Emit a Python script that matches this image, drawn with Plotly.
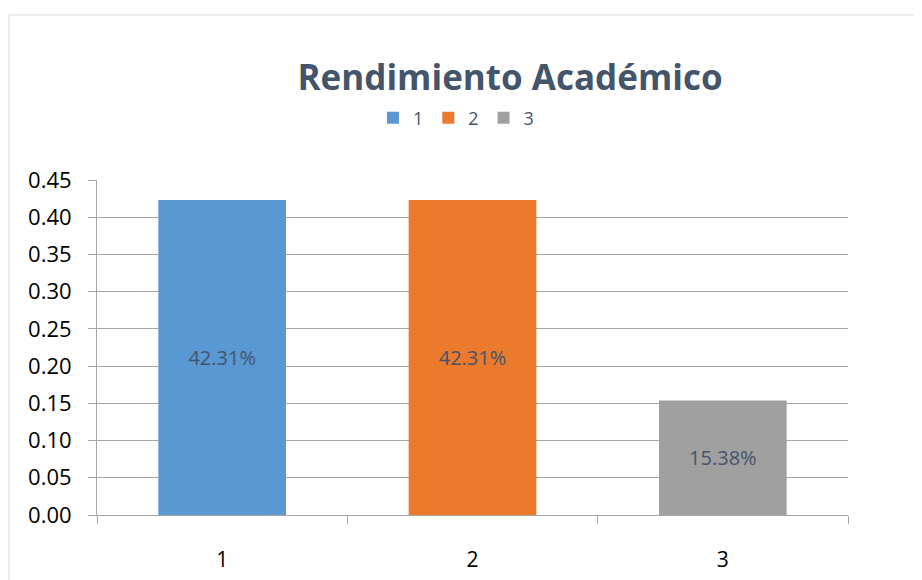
import plotly.graph_objects as go

categories = ["1", "2", "3"]
values = [0.4231, 0.4231, 0.1538]
labels = ["42.31%", "42.31%", "15.38%"]
colors = ["#5A98D3", "#EC7A2C", "#A0A0A0"]
y_ticks = [0.00, 0.05, 0.10, 0.15, 0.20, 0.25, 0.30, 0.35, 0.40, 0.45]

FONT = "'Open Sans', Lato, sans-serif"
TXT = "#44546A"

# page body has an 8px margin; plot area in page coords: x 97..848, y 180..515
L, T = 89, 172
W, H = 922, 580
PW, PH = 751, 335
R = W - L - PW
B = H - T - PH

fig = go.Figure()
for cat, val, lab, col in zip(categories, values, labels, colors):
    fig.add_trace(go.Bar(
        x=[cat], y=[val], name=cat, text=[lab],
        textposition="inside", insidetextanchor="middle",
        textfont=dict(family=FONT, size=20, color=TXT),
        marker=dict(color=col, line=dict(width=0)),
        textangle=0,
    ))

fig.update_layout(
    width=W, height=H,
    paper_bgcolor="white", plot_bgcolor="white",
    margin=dict(l=L, r=R, t=T, b=B),
    barmode="overlay", bargap=0.49,
    title=dict(text="<b>Rendimiento Académico</b>", x=0.55, xref="paper",
               y=1 - 70 / H, yanchor="middle", xanchor="center",
               font=dict(family=FONT, size=35, color=TXT)),
    legend=dict(orientation="h", x=0.478, xanchor="center", y=1.185, yanchor="middle",
                font=dict(family=FONT, size=18, color=TXT), itemwidth=30,
                bgcolor="rgba(0,0,0,0)", traceorder="normal"),
    font=dict(family=FONT),
    shapes=[dict(type="rect", xref="paper", yref="paper",
                 x0=(1 - L) / PW, x1=2, y0=(H - B - 7) / PH, y1=-1,
                 line=dict(color="#D9D9D9", width=1), fillcolor="rgba(0,0,0,0)",
                 layer="below")],
)
fig.update_xaxes(
    type="category", showline=True, linecolor="#A6A6A6", linewidth=1,
    ticks="outside", tickson="boundaries", ticklen=8, tickcolor="#A6A6A6",
    tickfont=dict(family=FONT, size=21, color="black"), ticklabelstandoff=26,
    showgrid=False,
)
fig.update_yaxes(
    range=[0, 0.45], tickvals=y_ticks, tickformat=".2f",
    showline=True, linecolor="#A6A6A6", linewidth=1,
    ticks="outside", ticklen=8, tickcolor="#A6A6A6",
    showgrid=True, gridcolor="#A6A6A6", gridwidth=1, zeroline=False,
    tickfont=dict(family=FONT, size=22, color="black"), ticklabelstandoff=12,
)
fig.write_html("out.html")
